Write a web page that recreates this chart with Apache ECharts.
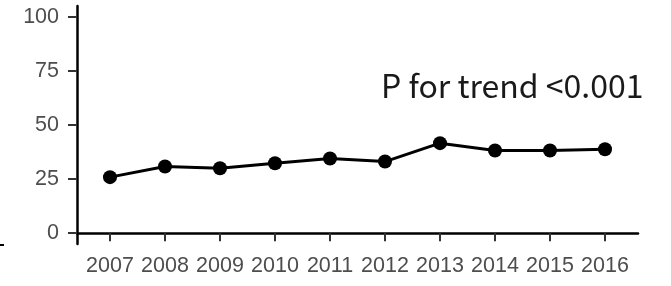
<!DOCTYPE html>
<html>
<head>
<meta charset="utf-8">
<script src="https://cdn.jsdelivr.net/npm/echarts@6/dist/echarts.min.js"></script>
<style>
  html, body { margin: 0; padding: 0; background: #fff; }
  #main { width: 671px; height: 286px; }
</style>
</head>
<body>
<div id="main"></div>
<script>
var years = [2007, 2008, 2009, 2010, 2011, 2012, 2013, 2014, 2015, 2016];
var values = [25.9, 30.8, 30.0, 32.3, 34.5, 33.1, 41.6, 38.2, 38.2, 38.8];
var yTicks = [0, 25, 50, 75, 100];
var note = 'P for trend <0.001';

var chart = echarts.init(document.getElementById('main'));

var points = [];
for (var i = 0; i < years.length; i++) {
  points.push([years[i], values[i]]);
}

var option = {
  animation: false,
  grid: { left: 77, right: 33, top: 6, bottom: 42 },
  xAxis: {
    type: 'value',
    min: 2006.4,
    max: 2016.6,
    splitLine: { show: false },
    axisLine: { show: true, lineStyle: { color: '#000', width: 2.5 } },
    axisTick: {
      show: true,
      length: 8,
      customValues: years,
      lineStyle: { color: '#333', width: 2 }
    },
    axisLabel: {
      customValues: years,
      color: '#4d4d4d',
      fontSize: 21.5,
      fontFamily: 'Liberation Sans',
      margin: 11,
      formatter: function (v) { return String(v); }
    }
  },
  yAxis: {
    type: 'value',
    min: -5,
    max: 105,
    splitLine: { show: false },
    axisLine: { show: true, lineStyle: { color: '#000', width: 2.5 } },
    axisTick: {
      show: true,
      length: 9,
      customValues: yTicks,
      lineStyle: { color: '#333', width: 2 }
    },
    axisLabel: {
      customValues: yTicks,
      color: '#4d4d4d',
      fontSize: 21.5,
      fontFamily: 'Liberation Sans',
      margin: 18
    }
  },
  graphic: [
    {
      type: 'text',
      left: 381,
      top: 70,
      style: {
        text: note,
        fill: '#1a1a1a',
        fontSize: 32,
        fontFamily: 'Noto Sans CJK JP'
      }
    },
    {
      type: 'rect',
      shape: { x: 0, y: 244, width: 4, height: 2 },
      style: { fill: '#000' }
    }
  ],
  series: [
    {
      type: 'line',
      data: points,
      symbol: 'circle',
      symbolSize: 14,
      lineStyle: { color: '#000', width: 3 },
      itemStyle: { color: '#000' }
    }
  ]
};

chart.setOption(option);
</script>
</body>
</html>
